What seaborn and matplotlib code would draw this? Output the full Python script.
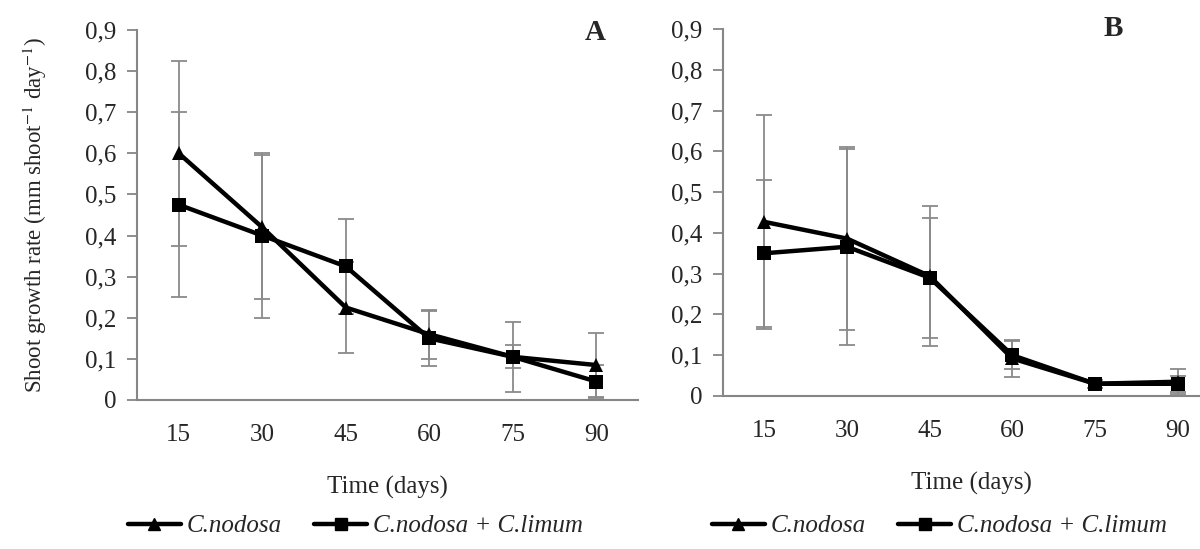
import numpy as np
import pandas as pd
import matplotlib
matplotlib.use("Agg")
import matplotlib.pyplot as plt
import seaborn as sns
from matplotlib.lines import Line2D

# data
days = [15, 30, 45, 60, 75, 90]
a_nodosa = [0.60, 0.42, 0.225, 0.16, 0.105, 0.085]
a_nodosa_sd = [0.225, 0.175, 0.11, 0.06, 0.085, 0.078]
a_mix = [0.475, 0.40, 0.325, 0.15, 0.105, 0.045]
a_mix_sd = [0.225, 0.20, 0.115, 0.067, 0.028, 0.04]

b_nodosa = [0.427, 0.386, 0.294, 0.092, 0.03, 0.035]
b_nodosa_sd = [0.262, 0.225, 0.172, 0.045, 0.01, 0.03]
b_mix = [0.35, 0.366, 0.29, 0.10, 0.03, 0.03]
b_mix_sd = [0.18, 0.24, 0.147, 0.035, 0.01, 0.02]

labels = ["C.nodosa", "C.nodosa + C.limum"]
yticks = [0, 0.1, 0.2, 0.3, 0.4, 0.5, 0.6, 0.7, 0.8, 0.9]
ytick_labels = ["0", "0,1", "0,2", "0,3", "0,4", "0,5", "0,6", "0,7", "0,8", "0,9"]

sns.set_theme(style="white")
plt.rcParams["font.family"] = ["Liberation Serif", "DejaVu Serif"]
plt.rcParams["mathtext.fontset"] = "stix"

fig = plt.figure(figsize=(12, 5.49), dpi=100)
axA = fig.add_axes([137/1200, 1-400/549, 501/1200, 370/549])
axB = fig.add_axes([723/1200, 1-396/549, 496/1200, 367/549])

gray = "#868686"


def panel(ax, nod, nod_sd, mix, mix_sd, letter, lx, ly):
    df = pd.DataFrame({
        "day": days * 2,
        "rate": nod + mix,
        "treat": [labels[0]] * 6 + [labels[1]] * 6,
    })
    ax.errorbar(days, nod, yerr=nod_sd, fmt="none", ecolor="#8a8a8a",
                elinewidth=1.3, capsize=5.5, capthick=1.3, zorder=1)
    ax.errorbar(days, mix, yerr=mix_sd, fmt="none", ecolor="#8a8a8a",
                elinewidth=1.3, capsize=5.5, capthick=1.3, zorder=1)
    sns.lineplot(data=df, x="day", y="rate", style="treat",
                 markers={labels[0]: "^", labels[1]: "s"},
                 dashes=False, color="black", linewidth=3.2,
                 markersize=10, markeredgewidth=0, ax=ax, zorder=3,
                 legend=False)
    ax.set_xlim(7.5, 97.5)
    ax.set_ylim(0, 0.9)
    ax.set_xticks(days)
    ax.set_xticklabels([str(d) for d in days], fontsize=18)
    ax.set_yticks(yticks)
    ax.set_yticklabels(ytick_labels, fontsize=18)
    ax.tick_params(axis="x", length=0, pad=17)
    ax.tick_params(axis="y", length=7, width=1.3, color=gray, pad=8, left=True)
    for s in ["top", "right"]:
        ax.spines[s].set_visible(False)
    for s in ["left", "bottom"]:
        ax.spines[s].set_color(gray)
        ax.spines[s].set_linewidth(1.5)
    ax.set_xlabel("Time (days)", fontsize=18, labelpad=22)
    ax.set_ylabel("")
    fig.text(lx/1200, 1-ly/549, letter, fontsize=21, fontweight="bold",
             ha="center", va="center")


panel(axA, a_nodosa, a_nodosa_sd, a_mix, a_mix_sd, "A", 595, 32)
panel(axB, b_nodosa, b_nodosa_sd, b_mix, b_mix_sd, "B", 1113, 28)

axA.set_ylabel(r"Shoot growth rate (mm shoot$^{-1}$ day$^{-1}$)", fontsize=16.5, labelpad=26)

# legends under each panel
handles = [
    Line2D([], [], color="black", lw=3.2, marker="^", markersize=9),
    Line2D([], [], color="black", lw=3.2, marker="s", markersize=9),
]
for x0 in [128/1200, 712/1200]:
    fig.legend(handles, labels, loc="center left", bbox_to_anchor=(x0, 23/549),
               ncol=2, frameon=False, borderpad=0, borderaxespad=0,
               handlelength=2.1, handletextpad=0.25, columnspacing=1.3,
               prop={"family": "Liberation Serif", "style": "italic", "size": 18})

fig.savefig("out.png", dpi=100)
